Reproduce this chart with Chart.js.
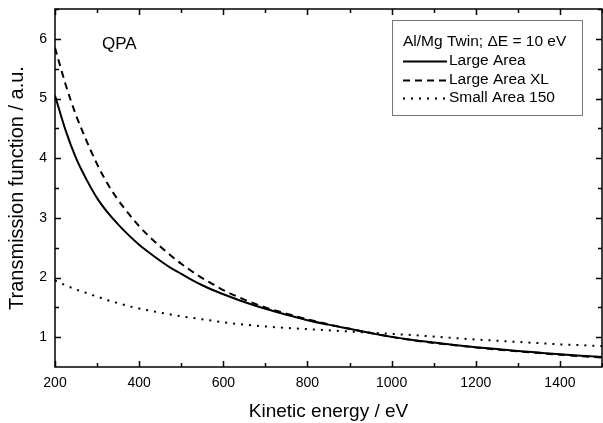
<!DOCTYPE html>
<html>
<head>
<meta charset="utf-8">
<script src="https://cdn.jsdelivr.net/npm/chart.js@4/dist/chart.umd.min.js"></script>
<style>
  html, body { margin: 0; padding: 0; background: #fff; }
  #wrap { width: 603px; height: 423px; position: relative; }
</style>
</head>
<body>
<div id="wrap"><canvas id="c" width="603" height="423"></canvas></div>
<script>
const energy = [200,225,250,275,300,325,350,375,400,425,450,475,500,525,550,575,600,650,700,750,800,850,900,950,1000,1050,1100,1150,1200,1250,1300,1350,1400,1450,1500];
const largeArea = [5.05,4.47,4.00,3.64,3.33,3.09,2.89,2.71,2.55,2.41,2.28,2.16,2.06,1.96,1.87,1.79,1.72,1.59,1.475,1.375,1.285,1.21,1.14,1.07,1.005,0.952,0.909,0.87,0.833,0.80,0.769,0.741,0.714,0.69,0.667];
const largeAreaXL = [5.85,5.24,4.72,4.29,3.90,3.57,3.30,3.07,2.86,2.68,2.52,2.37,2.23,2.105,1.99,1.89,1.79,1.63,1.50,1.395,1.30,1.215,1.14,1.07,1.005,0.948,0.904,0.864,0.827,0.793,0.762,0.733,0.706,0.681,0.658];
const smallArea150 = [1.95,1.87,1.80,1.74,1.68,1.62,1.57,1.52,1.48,1.445,1.41,1.38,1.35,1.325,1.30,1.275,1.25,1.21,1.18,1.155,1.135,1.115,1.095,1.075,1.055,1.035,1.01,0.985,0.96,0.94,0.92,0.90,0.88,0.865,0.85];
const seriesNames = ["Large Area", "Large Area XL", "Small Area 150"];
const legendTitle = "Al/Mg Twin; \u0394E = 10 eV";
const annotationText = "QPA";
const xTitle = "Kinetic energy / eV";
const yTitle = "Transmission function / a.u.";

const FONT = "'Liberation Sans', Arial, Helvetica, sans-serif";

function pts(ys) { return energy.map((x, i) => ({ x: x, y: ys[i] })); }

function zeroPad(s) { s.paddingTop = 0; s.paddingBottom = 0; s.paddingLeft = 0; s.paddingRight = 0; }

const frameTicks = {
  id: 'frameTicks',
  afterDraw(chart) {
    const ctx = chart.ctx, a = chart.chartArea;
    const xs = chart.scales.x, ys = chart.scales.y;
    ctx.save();
    ctx.strokeStyle = '#000';
    ctx.lineWidth = 1.5;
    ctx.strokeRect(a.left, a.top, a.right - a.left, a.bottom - a.top);
    for (let v = 200; v <= 1500; v += 100) {
      const p = Math.round(xs.getPixelForValue(v)) + 0.5;
      const L = (v % 200 === 0) ? 6 : 4;
      ctx.beginPath();
      ctx.moveTo(p, a.bottom); ctx.lineTo(p, a.bottom - L);
      ctx.moveTo(p, a.top); ctx.lineTo(p, a.top + L);
      ctx.stroke();
    }
    for (let v = 1; v <= 6.5; v += 0.5) {
      const p = Math.round(ys.getPixelForValue(v)) + 0.5;
      const L = Number.isInteger(v) ? 6 : 4;
      ctx.beginPath();
      ctx.moveTo(a.left, p); ctx.lineTo(a.left + L, p);
      ctx.moveTo(a.right, p); ctx.lineTo(a.right - L, p);
      ctx.stroke();
    }
    // annotation
    ctx.fillStyle = '#000';
    ctx.font = '17px ' + FONT;
    ctx.textBaseline = 'middle';
    ctx.textAlign = 'left';
    ctx.fillText(annotationText, 102, 44);
    // legend
    const bx = 392, by = 20, bw = 190, bh = 95;
    ctx.fillStyle = '#fff';
    ctx.fillRect(bx, by, bw, bh);
    ctx.strokeStyle = '#777';
    ctx.lineWidth = 1;
    ctx.strokeRect(bx + 0.5, by + 0.5, bw, bh);
    ctx.fillStyle = '#000';
    ctx.font = '15.5px ' + FONT;
    ctx.fillText(legendTitle, 403, 42);
    const rows = [61, 80, 98];
    chart.data.datasets.forEach((ds, i) => {
      const y = rows[i];
      ctx.save();
      ctx.strokeStyle = ds.borderColor;
      ctx.lineWidth = ds.borderWidth;
      ctx.setLineDash(ds.borderDash || []);
      ctx.beginPath();
      ctx.moveTo(403, y + 0.5); ctx.lineTo(447, y + 0.5);
      ctx.stroke();
      ctx.restore();
      ctx.fillText(ds.label, 449, y);
    });
    ctx.restore();
  }
};

new Chart(document.getElementById('c'), {
  type: 'line',
  data: {
    datasets: [
      { label: seriesNames[0], data: pts(largeArea), borderColor: '#000', borderWidth: 2, pointRadius: 0, cubicInterpolationMode: 'monotone', fill: false },
      { label: seriesNames[1], data: pts(largeAreaXL), borderColor: '#000', borderWidth: 2, borderDash: [7, 5], pointRadius: 0, cubicInterpolationMode: 'monotone', fill: false },
      { label: seriesNames[2], data: pts(smallArea150), borderColor: '#000', borderWidth: 2, borderDash: [2, 6], pointRadius: 0, cubicInterpolationMode: 'monotone', fill: false }
    ]
  },
  options: {
    responsive: false,
    animation: false,
    events: [],
    layout: { padding: { top: 9, right: 1, left: 0, bottom: 0 } },
    plugins: { legend: { display: false }, tooltip: { enabled: false } },
    scales: {
      x: {
        type: 'linear', min: 200, max: 1500,
        grid: { display: false, drawTicks: false },
        border: { display: false },
        ticks: {
          stepSize: 100, autoSkip: false, maxRotation: 0, padding: 8, color: '#000',
          font: { family: FONT, size: 14 },
          callback: (v) => (v % 200 === 0 && v <= 1400) ? String(v) : ''
        },
        title: { display: true, text: xTitle, color: '#000', font: { family: FONT, size: 19 }, padding: { top: 5, bottom: 0 } },
        afterFit: (s) => { s.height = 56; zeroPad(s); }
      },
      y: {
        type: 'linear', min: 0.5, max: 6.5,
        grid: { display: false, drawTicks: false },
        border: { display: false },
        ticks: {
          stepSize: 0.5, autoSkip: false, padding: 8, color: '#000',
          font: { family: FONT, size: 14 },
          callback: (v) => Number.isInteger(v) ? String(v) : ''
        },
        title: { display: true, text: yTitle, color: '#000', font: { family: FONT, size: 20 }, padding: { top: 5, bottom: 4 } },
        afterFit: (s) => { s.width = 55; zeroPad(s); }
      }
    }
  },
  plugins: [frameTicks]
});
</script>
</body>
</html>
